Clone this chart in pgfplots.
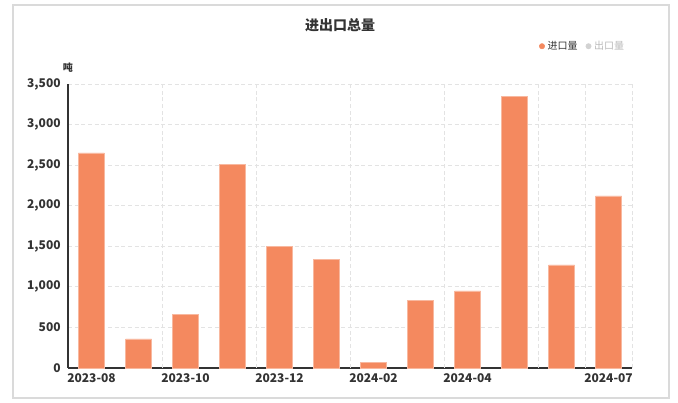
\documentclass[border=0pt]{standalone}
\usepackage{pgfplots}
\pgfplotsset{compat=1.18}
\usepackage{fontspec}
\setmainfont{Noto Sans CJK SC}
\definecolor{barc}{HTML}{F4895F}
\definecolor{gridc}{HTML}{E3E3E3}
\definecolor{axc}{HTML}{333333}
\definecolor{txt}{HTML}{333333}
\definecolor{frame}{HTML}{DADADA}
\begin{document}
\begin{tikzpicture}
\useasboundingbox (-51pt,-26.25pt) rectangle (457.5pt,276pt);
\draw[frame, line width=0.8pt] (-41.25pt,-22.5pt) rectangle (450.75pt,272.25pt);
\node[font=\bfseries\fontsize{10.5}{12}\selectfont, text=txt] at (204pt,257.25pt) {进出口总量};
\begin{axis}[
    at={(0,0)}, anchor=south west,
    scale only axis,
    width=423pt, height=213pt,
    ybar, bar width=19.5pt, bar shift=0pt,
    xmin=-0.5, xmax=11.5,
    ymin=0, ymax=3500,
    ytick={0,500,...,3500},
    xtick={0,2,4,6,8,11},
    xticklabels={2023-08,2023-10,2023-12,2024-02,2024-04,2024-07},
    extra x ticks={1.5,3.5,5.5,7.5,9.5,10.5,11.5},
    extra x tick labels={},
    every extra x tick/.style={grid=major,
        major grid style={draw=gridc, dash pattern=on 3pt off 2pt, line width=0.6pt}},
    ymajorgrids,
    major grid style={draw=gridc, dash pattern=on 3pt off 2pt, line width=0.6pt},
    major tick length=0pt,
    axis x line*=bottom, axis y line*=left,
    axis line style={axc, line width=0.8pt, -},
    tick label style={font=\bfseries\fontsize{9}{10}\selectfont, text=txt},
    /pgf/number format/assume math mode=true,
    /pgf/number format/1000 sep={,},
    yticklabel style={xshift=-2pt},
    xticklabel style={yshift=-1pt},
    clip=false,
    legend columns=2,
    legend style={at={(0.913,1.133)}, anchor=center, draw=none, fill=none,
        font=\fontsize{7.5}{8}\selectfont,
        /tikz/every even column/.append style={column sep=4pt}},
    legend cell align=left,
]
\addplot[fill=barc, draw=barc!60!white, line width=0.3pt, forget plot] coordinates {
 (0,2650) (1,360) (2,660) (3,2510) (4,1500) (5,1340)
 (6,70) (7,830) (8,950) (9,3350) (10,1270) (11,2120)};
\addlegendimage{legend image code/.code={\fill[barc] (0.12cm,0) circle (2pt);}}
\addlegendentry{\textcolor{txt}{进口量}}
\addlegendimage{legend image code/.code={\fill[gray!35] (0.12cm,0) circle (2pt);}}
\addlegendentry{\textcolor{gray!55}{出口量}}
\node[anchor=south, font=\bfseries\fontsize{7.5}{8}\selectfont, text=txt] at (rel axis cs:0,1) [yshift=5pt] {吨};
\end{axis}
\end{tikzpicture}
\end{document}
